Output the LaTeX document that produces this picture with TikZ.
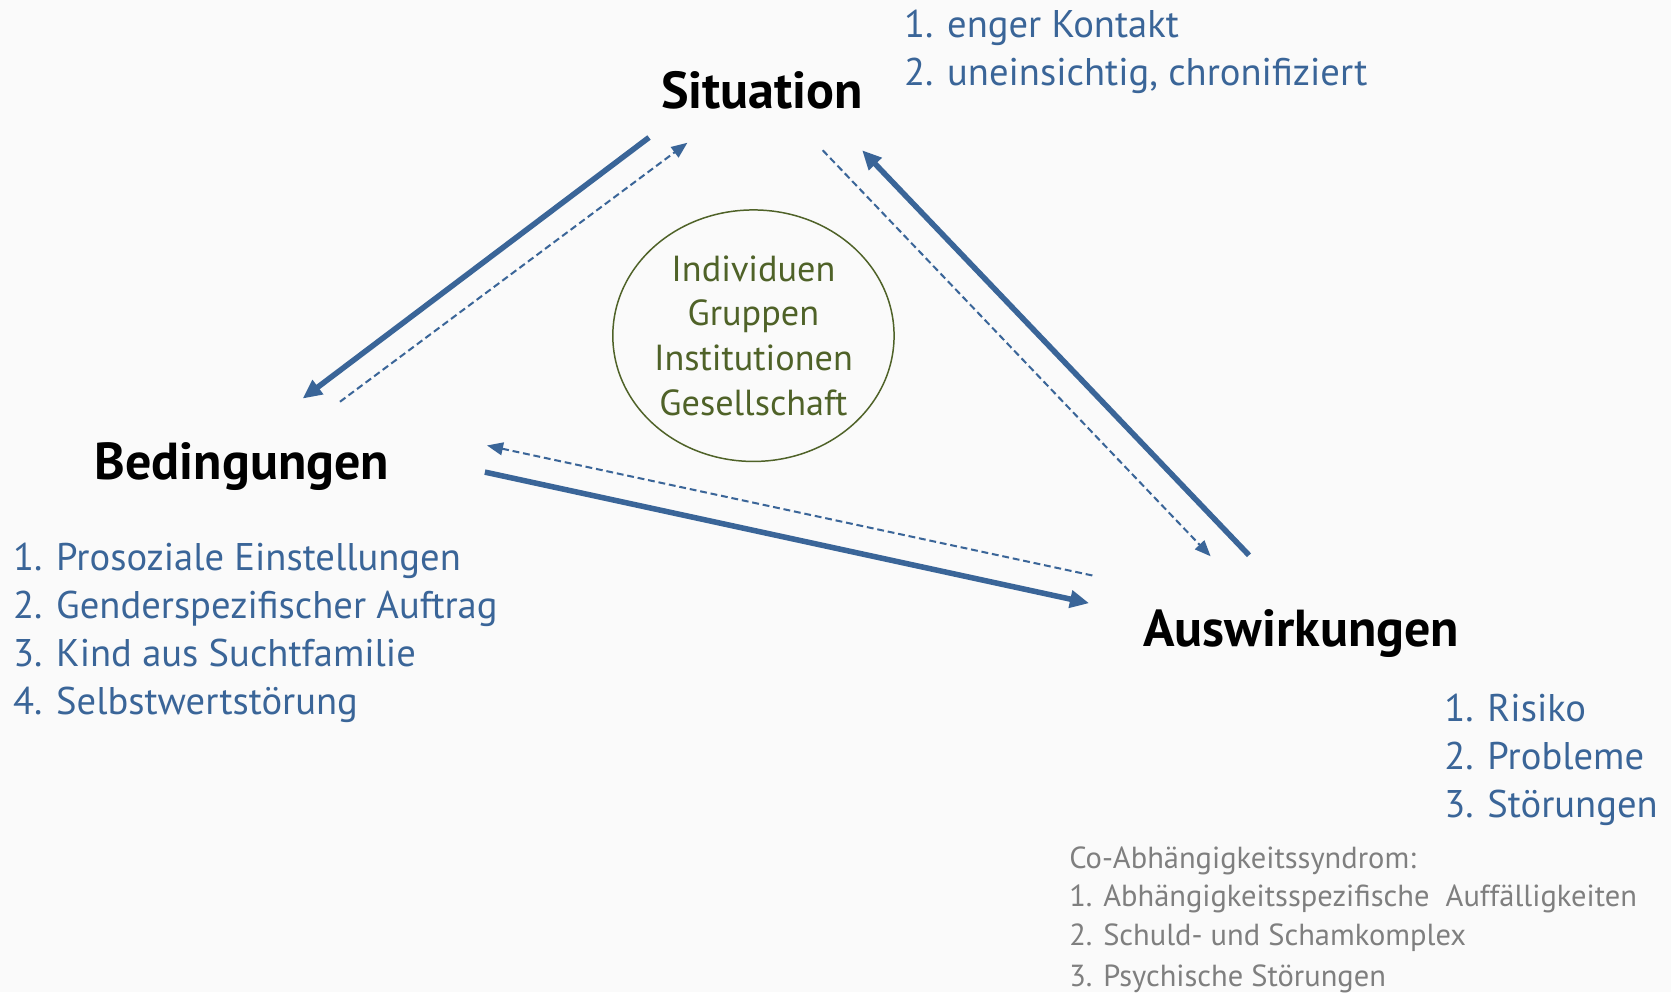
\documentclass[tikz,border=0pt]{standalone}
\usepackage{fontspec}
\setmainfont{PT Sans}
\usetikzlibrary{shapes.geometric,arrows.meta}
\definecolor{flowblue}{HTML}{3A6598}
\definecolor{ctxgreen}{HTML}{4F6228}
\definecolor{notegray}{HTML}{7F7F7F}
\definecolor{paper}{HTML}{FAFAFA}
\tikzset{
  corner/.style={font=\fontsize{24.4}{28}\selectfont\bfseries, text=black, anchor=base, inner sep=0pt},
  factors/.style={font=\fontsize{18.1}{22.5}\selectfont, text=flowblue, align=left, anchor=north west, inner sep=0pt},
  syndrome/.style={font=\fontsize{14.3}{18}\selectfont, text=notegray, align=left, anchor=north west, inner sep=0pt},
  context/.style={ellipse, draw=ctxgreen, line width=0.7pt, text=ctxgreen, align=center,
    font=\fontsize{17}{21}\selectfont, minimum width=130pt, minimum height=118pt, inner sep=0pt},
  strongflow/.style={flowblue, line width=2.6pt, -{Triangle[length=9pt,width=8pt]}},
  weakflow/.style={flowblue, line width=0.95pt, dash pattern=on 3.2pt off 1.8pt, -{Triangle[length=7.5pt,width=6pt]}},
}
\begin{document}
\begin{tikzpicture}[x=0.5pt,y=-0.5pt]
    % Hintergrund
    \fill[paper] (0,0) rectangle (1568,931);

    % Ecken des Dreiecks
    \node[corner] (sit) at (715,102) {Situation};
    \node[corner] (bed) at (227,450) {Bedingungen};
    \node[corner] (ausw) at (1221,607) {Auswirkungen};

    % Aufzaehlungen
    \node[factors] (sitlist) at (848,9) {1. enger Kontakt\\2. uneinsichtig, chronifiziert};
    \node[factors] (bedlist) at (12,509) {1. Prosoziale Einstellungen\\2. Genderspezifischer Auftrag\\3. Kind aus Suchtfamilie\\4. Selbstwertstörung};
    \node[factors] (auswlist) at (1355,651) {1. Risiko\\2. Probleme\\3. Störungen};
    \node[syndrome] (colist) at (1003,794) {Co-Abhängigkeitssyndrom:\\1. Abhängigkeitsspezifische\ \ Auffälligkeiten\\2. Schuld- und Schamkomplex\\[1.5pt]3. Psychische Störungen};

    % Kontext in der Mitte
    \node[context] (ctx) at (707,315) {Individuen\\Gruppen\\Institutionen\\Gesellschaft};

    % Endpunkte der Pfeile
    \coordinate (sitA) at (609,129);
    \coordinate (sitB) at (645,134);
    \coordinate (sitC) at (772,141);
    \coordinate (sitD) at (809,141);
    \coordinate (bedA) at (284,374);
    \coordinate (bedB) at (319,377);
    \coordinate (bedC) at (457,418);
    \coordinate (bedD) at (455,443);
    \coordinate (auswA) at (1136,522);
    \coordinate (auswB) at (1172,521);
    \coordinate (auswC) at (1025,540);
    \coordinate (auswD) at (1022,566);

    % Wechselwirkungen
    \draw[strongflow] (sitA) -- (bedA);
    \draw[weakflow] (bedB) -- (sitB);
    \draw[weakflow] (sitC) -- (auswA);
    \draw[strongflow] (auswB) -- (sitD);
    \draw[weakflow] (auswC) -- (bedC);
    \draw[strongflow] (bedD) -- (auswD);
\end{tikzpicture}
\end{document}
